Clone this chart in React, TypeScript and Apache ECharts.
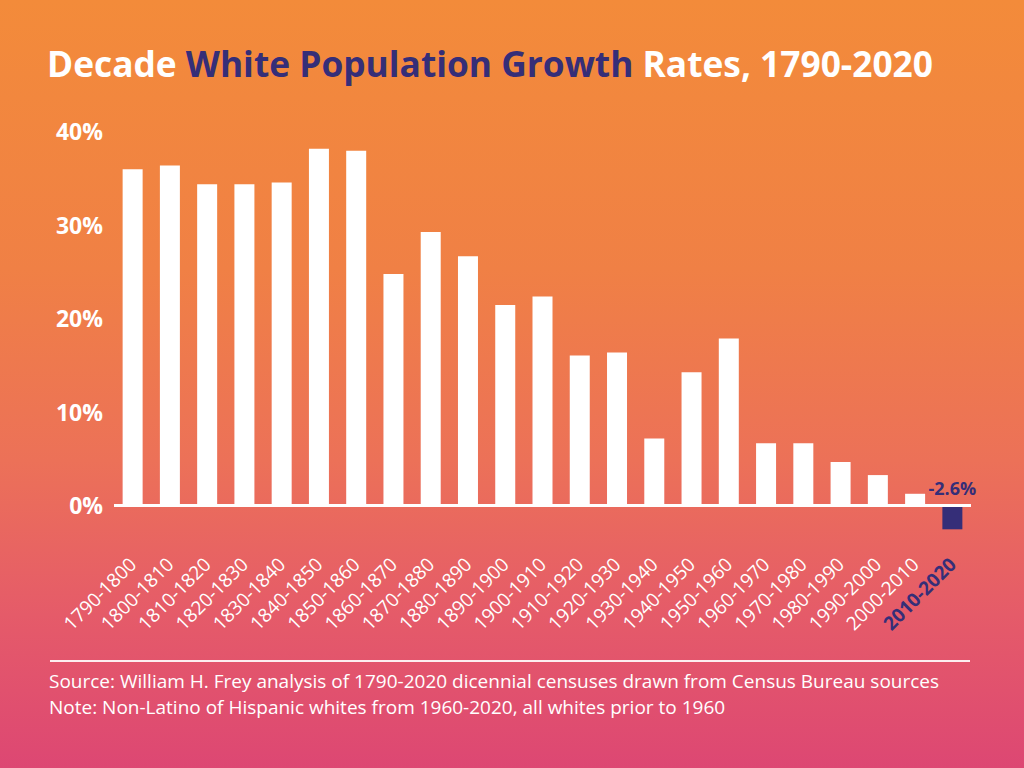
import React, { useEffect, useRef } from "react";
import * as echarts from "echarts";

const categories = [
  "1790-1800", "1800-1810", "1810-1820", "1820-1830", "1830-1840", "1840-1850",
  "1850-1860", "1860-1870", "1870-1880", "1880-1890", "1890-1900", "1900-1910",
  "1910-1920", "1920-1930", "1930-1940", "1940-1950", "1950-1960", "1960-1970",
  "1970-1980", "1980-1990", "1990-2000", "2000-2010", "2010-2020",
];
const growthRates = [
  35.9, 36.3, 34.3, 34.3, 34.5, 38.1, 37.9, 24.7, 29.2, 26.6, 21.4, 22.3,
  16.0, 16.3, 7.1, 14.2, 17.8, 6.6, 6.6, 4.6, 3.2, 1.2, -2.6,
];
const yTicks = [0, 10, 20, 30, 40];
const highlightIndex = 22;
const titleParts = ["Decade ", "White Population Growth", " Rates, 1790-2020"];
const notes = [
  "Source: William H. Frey analysis of 1790-2020 dicennial censuses drawn from Census Bureau sources",
  "Note: Non-Latino of Hispanic whites from 1960-2020, all whites prior to 1960",
];

const PURPLE = "#352E78";
const FONT = "'Open Sans', Lato, sans-serif";

export default function App() {
  const ref = useRef<HTMLDivElement>(null);
  useEffect(() => {
    if (!ref.current) return;
    const chart = echarts.init(ref.current, undefined, { renderer: "svg" });
    const option: any = {
      animation: false,
      backgroundColor: {
        type: "linear", x: 0, y: 0, x2: 0, y2: 1,
        colorStops: [
          { offset: 0, color: "#F38B3A" },
          { offset: 0.35, color: "#F08045" },
          { offset: 0.6, color: "#EC7158" },
          { offset: 0.8, color: "#E55B69" },
          { offset: 1, color: "#DD4773" },
        ],
      },
      title: {
        text: `{a|${titleParts[0]}}{b|${titleParts[1]}}{a|${titleParts[2]}}`,
        left: 42,
        top: 40,
        textStyle: {
          rich: {
            a: { color: "#ffffff", fontSize: 35.3, fontWeight: "bold", fontFamily: FONT },
            b: { color: PURPLE, fontSize: 35.3, fontWeight: "bold", fontFamily: FONT },
          },
        },
      },
      grid: { left: 114, right: 53, top: 131, bottom: 216.25, containLabel: false },
      xAxis: {
        type: "category",
        data: categories.map((c, i) =>
          i === highlightIndex
            ? { value: c, textStyle: { color: PURPLE, fontWeight: "bold" } }
            : c
        ),
        axisLine: { show: false },
        axisTick: { show: false },
        axisLabel: {
          interval: 0,
          rotate: 45,
          color: "#ffffff",
          fontSize: 19,
          fontFamily: FONT,
          margin: 9,
        },
      },
      yAxis: {
        type: "value",
        min: -5,
        max: 40,
        interval: 5,
        splitLine: { show: false },
        axisLine: { show: false },
        axisTick: { show: false },
        axisLabel: {
          color: "#ffffff",
          fontSize: 23,
          fontWeight: "bold",
          fontFamily: FONT,
          margin: 11,
          formatter: (v: number) => (yTicks.indexOf(v) >= 0 ? `${v}%` : ""),
        },
      },
      series: [
        {
          type: "bar",
          barWidth: 20,
          data: growthRates.map((v, i) =>
            i === highlightIndex
              ? {
                  value: v,
                  itemStyle: { color: PURPLE },
                  label: {
                    show: true,
                    position: "top",
                    distance: 8,
                    formatter: `${v}%`,
                    color: PURPLE,
                    fontSize: 18,
                    fontWeight: "bold",
                    fontFamily: FONT,
                  },
                }
              : { value: v, itemStyle: { color: "#ffffff" } }
          ),
          markLine: {
            silent: true,
            symbol: "none",
            label: { show: false },
            lineStyle: { color: "#ffffff", width: 3, type: "solid", opacity: 1 },
            data: [{ yAxis: 0 }],
          },
        },
      ],
      graphic: [
        {
          type: "line",
          shape: { x1: 50, y1: 661, x2: 970, y2: 661 },
          style: { stroke: "rgba(255,255,255,0.9)", lineWidth: 2 },
        },
        {
          type: "text",
          x: 49,
          y: 668,
          style: {
            text: notes.join("\n"),
            fill: "#ffffff",
            fontSize: 19,
            lineHeight: 26,
            fontFamily: FONT,
            verticalAlign: "top",
          },
        },
      ],
    };
    chart.setOption(option);
    return () => chart.dispose();
  }, []);
  return (
    <div
      ref={ref}
      style={{ position: "fixed", left: 0, top: 0, width: 1024, height: 768 }}
    />
  );
}
